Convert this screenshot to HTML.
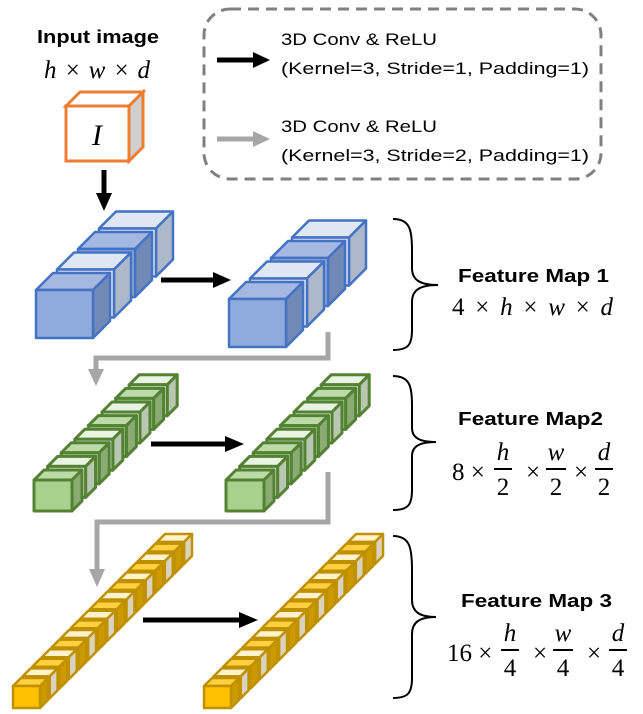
<!DOCTYPE html>
<html><head><meta charset="utf-8"><style>
html,body{margin:0;padding:0;background:#fff;}
svg{display:block;}
.t{font-family:"Liberation Sans",sans-serif;}
.m{font-family:"Liberation Serif","DejaVu Serif",serif;font-style:italic;}
.n{font-family:"Liberation Serif","DejaVu Serif",serif;}
</style></head><body>
<svg id="s" width="643" height="714" viewBox="0 0 643 714" xmlns="http://www.w3.org/2000/svg">
<!-- legend -->
<rect x="204" y="9" width="397" height="170" rx="26" fill="none" stroke="#808080" stroke-width="3" stroke-dasharray="11,7"/>
<line x1="217" y1="60" x2="256" y2="60" stroke="#000" stroke-width="5"/>
<polygon points="253,52 270,60 253,68" fill="#000"/>
<line x1="217" y1="139" x2="256" y2="139" stroke="#a6a6a6" stroke-width="5"/>
<polygon points="253,131 270,139 253,147" fill="#a6a6a6"/>
<text class="t" x="281" y="45" font-size="17" textLength="156" lengthAdjust="spacingAndGlyphs">3D Conv &amp; ReLU</text>
<text class="t" x="281" y="74" font-size="17" textLength="308" lengthAdjust="spacingAndGlyphs">(Kernel=3, Stride=1, Padding=1)</text>
<text class="t" x="281" y="132" font-size="17" textLength="156" lengthAdjust="spacingAndGlyphs">3D Conv &amp; ReLU</text>
<text class="t" x="281" y="161" font-size="17" textLength="308" lengthAdjust="spacingAndGlyphs">(Kernel=3, Stride=2, Padding=1)</text>
<!-- input -->
<text class="t" x="98" y="43" font-size="18" font-weight="bold" text-anchor="middle" textLength="122" lengthAdjust="spacingAndGlyphs">Input image</text>
<text class="m" x="97" y="78" font-size="25" text-anchor="middle" textLength="106" lengthAdjust="spacing">h × w × d</text>
<polygon points="66,106 80,92 143,92 129,106" fill="#fff" stroke="#ed7d31" stroke-width="3"/>
<polygon points="129,106 143,92 143,147 129,161" fill="#d0d0d0" stroke="#ed7d31" stroke-width="3"/>
<rect x="66" y="106" width="63" height="55" fill="#fff" stroke="#ed7d31" stroke-width="3"/>
<text class="m" x="97" y="145" font-size="30" text-anchor="middle">I</text>
<line x1="104" y1="170" x2="104" y2="196" stroke="#000" stroke-width="5"/>
<polygon points="96,193 112,193 104,211" fill="#000"/>
<g id="cubes"></g>
<!-- black arrows -->
<line x1="161" y1="280" x2="216" y2="280" stroke="#000" stroke-width="5"/>
<polygon points="213,272 231,280 213,288" fill="#000"/>
<line x1="151" y1="444" x2="228" y2="444" stroke="#000" stroke-width="5"/>
<polygon points="225,436 244,444 225,452" fill="#000"/>
<line x1="143" y1="620" x2="242" y2="620" stroke="#000" stroke-width="5"/>
<polygon points="239,612 258,620 239,628" fill="#000"/>
<!-- gray connectors -->
<polyline points="328,332 328,358 96,358 96,372" fill="none" stroke="#a6a6a6" stroke-width="5"/>
<polygon points="88,369 104,369 96,386" fill="#a6a6a6"/>
<polyline points="328,472 328,522 97,522 97,572" fill="none" stroke="#a6a6a6" stroke-width="5"/>
<polygon points="89,569 105,569 97,587" fill="#a6a6a6"/>
<!-- braces -->
<path d="M393,219 C410,219 412,230 412,250 L412,268 C412,280 420,285 438,285 C420,285 412,290 412,302 L412,330 C412,345 408,350 393,350" fill="none" stroke="#000" stroke-width="2"/>
<path d="M393,376 C410,376 412,387 412,405 L412,428 C412,438 420,442 436,442 C420,442 412,446 412,456 L412,490 C412,505 408,510 393,510" fill="none" stroke="#000" stroke-width="2"/>
<path d="M393,536 C410,536 412,548 412,570 L412,600 C412,612 420,617 436,617 C420,617 412,622 412,634 L412,678 C412,693 408,698 393,698" fill="none" stroke="#000" stroke-width="2"/>
<!-- labels -->
<text class="t" x="458" y="282" font-size="18" font-weight="bold" textLength="151" lengthAdjust="spacingAndGlyphs">Feature Map 1</text>
<text class="n" x="452" y="315" font-size="25" textLength="161" lengthAdjust="spacing">4 × <tspan class="m">h</tspan>  × <tspan class="m">w</tspan>  × <tspan class="m">d</tspan></text>
<text class="t" x="458" y="425" font-size="18" font-weight="bold" textLength="145" lengthAdjust="spacingAndGlyphs">Feature Map2</text>
<text class="n" x="452" y="480" font-size="25">8 ×</text>
<text class="m" x="503" y="460" font-size="25" text-anchor="middle">h</text>
<line x1="494" y1="469" x2="512" y2="469" stroke="#000" stroke-width="2"/>
<text class="n" x="503" y="495" font-size="25" text-anchor="middle">2</text>
<text class="n" x="533" y="480" font-size="25" text-anchor="middle">×</text>
<text class="m" x="556" y="460" font-size="25" text-anchor="middle">w</text>
<line x1="546" y1="469" x2="566" y2="469" stroke="#000" stroke-width="2"/>
<text class="n" x="556" y="495" font-size="25" text-anchor="middle">2</text>
<text class="n" x="581" y="480" font-size="25" text-anchor="middle">×</text>
<text class="m" x="604" y="460" font-size="25" text-anchor="middle">d</text>
<line x1="595" y1="469" x2="613" y2="469" stroke="#000" stroke-width="2"/>
<text class="n" x="604" y="495" font-size="25" text-anchor="middle">2</text>
<text class="t" x="461" y="607" font-size="18" font-weight="bold" textLength="151" lengthAdjust="spacingAndGlyphs">Feature Map 3</text>
<text class="n" x="447" y="661" font-size="25">16 ×</text>
<text class="m" x="510" y="641" font-size="25" text-anchor="middle">h</text>
<line x1="501" y1="650" x2="519" y2="650" stroke="#000" stroke-width="2"/>
<text class="n" x="510" y="676" font-size="25" text-anchor="middle">4</text>
<text class="n" x="540" y="661" font-size="25" text-anchor="middle">×</text>
<text class="m" x="563" y="641" font-size="25" text-anchor="middle">w</text>
<line x1="553" y1="650" x2="573" y2="650" stroke="#000" stroke-width="2"/>
<text class="n" x="563" y="676" font-size="25" text-anchor="middle">4</text>
<text class="n" x="594" y="661" font-size="25" text-anchor="middle">×</text>
<text class="m" x="618" y="641" font-size="25" text-anchor="middle">d</text>
<line x1="609" y1="650" x2="627" y2="650" stroke="#000" stroke-width="2"/>
<text class="n" x="618" y="676" font-size="25" text-anchor="middle">4</text>
</svg>
<script>
var g=document.getElementById('cubes'),NS='http://www.w3.org/2000/svg';
function poly(pts,fill,stroke,sw){var p=document.createElementNS(NS,'polygon');p.setAttribute('points',pts);p.setAttribute('fill',fill);p.setAttribute('stroke',stroke);p.setAttribute('stroke-width',sw);p.setAttribute('stroke-linejoin','round');g.appendChild(p);}
function cube(x,y,w,h,d,front,top,side,st,sw){
 poly([x,y,x+d,y-d,x+w+d,y-d,x+w,y].join(','),top,st,sw);
 poly([x+w,y,x+w+d,y-d,x+w+d,y+h-d,x+w,y+h].join(','),side,st,sw);
 poly([x,y,x+w,y,x+w,y+h,x,y+h].join(','),front,st,sw);
}
var P={
 b:{st:'#4472c4',dk:['#8faadc','#a5b8e2','#7189b6'],lt:['#dae3f3','#dfe6f4','#adb9ca']},
 g:{st:'#548235',dk:['#a9d18e','#bcdba6','#8aac72'],lt:['#e2f0d9','#e9f3e2','#b9c6b0']},
 y:{st:'#bf9000',dk:['#ffc000','#ffd040','#cc9a00'],lt:['#fff2cc','#fff2cc','#d9d2bc']}
};
function group(x,y,w,h,d,n,sx,sy,c,sw){
 for(var i=n-1;i>=0;i--){var col=(i%2==0)?c.dk:c.lt;cube(x+i*sx,y-i*sy,w,h,d,col[0],col[1],col[2],c.st,sw);}
}
group(36,290,57,48,17,4,21,20.5,P.b,2.5);
group(229,299,57,48,17,4,21,20.5,P.b,2.5);
group(34,480,38,31,10,8,13.6,13.6,P.g,3);
group(226,480,38,31,10,8,13.6,13.6,P.g,3);
group(13,686,27,22,8,16,9.6,9.6,P.y,2.5);
group(204,686,27,22,8,16,9.6,9.6,P.y,2.5);
</script>
</body></html>
